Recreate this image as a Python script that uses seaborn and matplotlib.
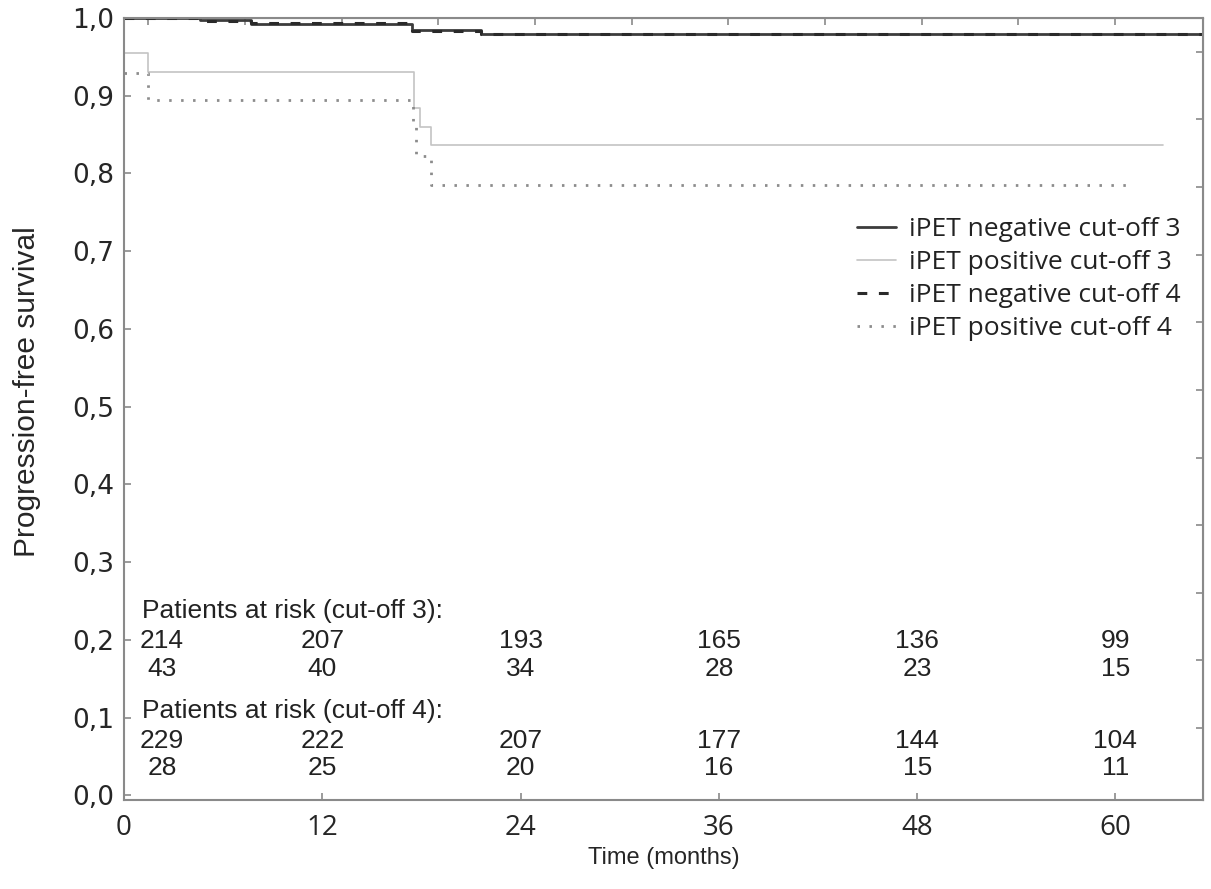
import numpy as np
import pandas as pd
import seaborn as sns
from matplotlib import pyplot as plt

# Kaplan-Meier step curves (time in months, progression-free survival)
neg3_time = [0, 4.6, 7.7, 17.4, 21.6, 65.3]
neg3_surv = [1.0, 0.997, 0.992, 0.985, 0.980, 0.980]
pos3_time = [0, 1.47, 17.55, 17.9, 18.6, 62.9]
pos3_surv = [0.955, 0.930, 0.884, 0.860, 0.836, 0.836]
neg4_time = [0, 4.6, 7.7, 17.4, 21.6, 65.3]
neg4_surv = [1.0, 0.996, 0.993, 0.983, 0.979, 0.979]
pos4_time = [0, 1.47, 17.5, 17.7, 18.6, 61.1]
pos4_surv = [0.929, 0.894, 0.860, 0.822, 0.785, 0.785]

# patients at risk
risk_times = [0, 12, 24, 36, 48, 60]
risk_neg3 = [214, 207, 193, 165, 136, 99]
risk_pos3 = [43, 40, 34, 28, 23, 15]
risk_neg4 = [229, 222, 207, 177, 144, 104]
risk_pos4 = [28, 25, 20, 16, 15, 11]

x_ticks = [0, 12, 24, 36, 48, 60]
y_ticks = [0.0, 0.1, 0.2, 0.3, 0.4, 0.5, 0.6, 0.7, 0.8, 0.9, 1.0]
y_tick_labels = ["0,0", "0,1", "0,2", "0,3", "0,4", "0,5", "0,6", "0,7", "0,8", "0,9", "1,0"]

sns.set_style("ticks")
plt.rcParams["font.family"] = ["Liberation Sans", "DejaVu Sans"]

fig = plt.figure(figsize=(12.11, 8.89), dpi=100)
ax = fig.add_axes([0.1024, 0.1001, 0.8910, 0.8797])

spine_col = "#8a8a8a"

styles = [
    ("iPET negative cut-off 3", neg3_time, neg3_surv, dict(color="#3c3c3c", linewidth=2.0, linestyle="-")),
    ("iPET positive cut-off 3", pos3_time, pos3_surv, dict(color="#c4c4c4", linewidth=1.2, linestyle="-")),
    ("iPET negative cut-off 4", neg4_time, neg4_surv, dict(color="#2a2a2a", linewidth=2.2, linestyle=(0, (3.2, 3.8)))),
    ("iPET positive cut-off 4", pos4_time, pos4_surv, dict(color="#8c8c8c", linewidth=2.0, linestyle=(0, (0.9, 3.4)))),
]
for label, t, s, kw in styles:
    df = pd.DataFrame({"time": t, "surv": s})
    sns.lineplot(data=df, x="time", y="surv", drawstyle="steps-post", ax=ax,
                 label=label, estimator=None, sort=True, **kw)

ax.set_xlim(0, 65.3)
ax.set_ylim(-0.006, 1.0)
ax.set_xticks(x_ticks)
ax.set_xticklabels([str(v) for v in x_ticks], fontsize=20, family=["Open Sans", "DejaVu Sans"])
ax.set_yticks(y_ticks)
ax.set_yticklabels(y_tick_labels, fontsize=19, family=["DejaVu Sans"])
ax.tick_params(direction="in", length=5, width=1.2, color=spine_col, pad=7)
ax.tick_params(axis="x", pad=10)

for sp in ax.spines.values():
    sp.set_color(spine_col)
    sp.set_linewidth(1.5)
    sp.set_visible(True)

# small inner ticks on top and right edges
top = ax.secondary_xaxis("top")
top.set_xticks(np.arange(1.47, 65, 5.85))
top.set_xticklabels([])
top.tick_params(direction="in", length=5, width=1.2, color=spine_col)
top.spines["top"].set_color(spine_col)
right = ax.secondary_yaxis("right")
right.set_yticks(np.arange(0.9565, 0, -0.087))
right.set_yticklabels([])
right.tick_params(direction="in", length=5, width=1.2, color=spine_col)
right.spines["right"].set_color(spine_col)

ax.set_xlabel("Time (months)", fontsize=17, labelpad=4)
ax.set_ylabel("Progression-free survival", fontsize=21.5)
ax.yaxis.set_label_coords(-0.077, 0.522)

# at-risk table
txt = dict(fontsize=19, color="#222222", va="center")
ax.text(1.1, 0.237, "Patients at risk (cut-off 3):", ha="left", **txt)
ax.text(1.1, 0.109, "Patients at risk (cut-off 4):", ha="left", **txt)
rows = [(risk_neg3, 0.198), (risk_pos3, 0.162), (risk_neg4, 0.070), (risk_pos4, 0.035)]
for counts, yy in rows:
    for i, (tm, n) in enumerate(zip(risk_times, counts)):
        xx = tm + 2.3 if i == 0 else tm
        ax.text(xx, yy, str(n), ha="center", **txt)

leg = ax.legend(loc="upper right", bbox_to_anchor=(0.979, 0.745), frameon=False,
                borderaxespad=0, borderpad=0, labelspacing=0.3, handlelength=1.45,
                handletextpad=0.5, prop={"family": ["Open Sans", "DejaVu Sans"], "size": 19})
for t in leg.get_texts():
    t.set_color("#222222")

fig.savefig("out.png", dpi=100)
